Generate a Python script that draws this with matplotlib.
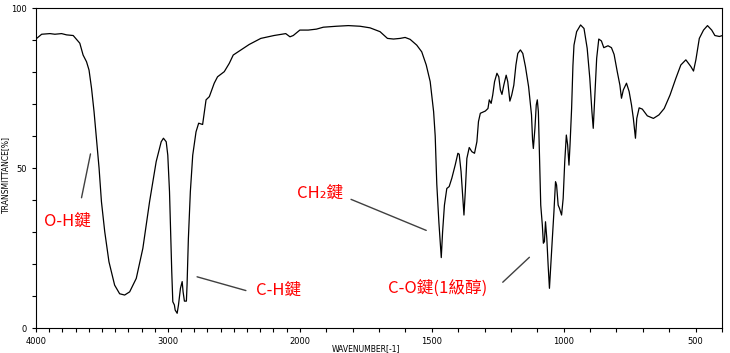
import matplotlib
matplotlib.use("Agg")
import matplotlib.pyplot as plt
import numpy as np

# IR spectrum (wavenumber in cm-1, transmittance in %)
wavenumber = [
    3995, 3957, 3894, 3857, 3806, 3768, 3718, 3668, 3643, 3617, 3598, 3579,
    3560, 3542, 3522, 3504, 3479, 3447, 3404, 3366, 3328, 3290, 3240, 3190,
    3139, 3089, 3051, 3034, 3013, 3001, 2988, 2981, 2971, 2963, 2951, 2945,
    2930, 2920, 2905, 2892, 2885, 2875, 2860, 2855, 2845, 2830, 2812, 2787,
    2767, 2737, 2711, 2686, 2649, 2624, 2573, 2535, 2505, 2447, 2384, 2296,
    2196, 2107, 2075, 2050, 2000,
    1968, 1937, 1911, 1861, 1816, 1772, 1734, 1696, 1668, 1645, 1620, 1601,
    1582, 1557, 1538, 1521, 1506, 1493, 1487, 1481, 1473, 1468, 1464, 1459,
    1452, 1443, 1434, 1424, 1411, 1401, 1396, 1389, 1382, 1378, 1373, 1367,
    1358, 1348, 1338, 1329, 1323, 1316, 1297, 1287, 1282, 1275, 1269, 1262,
    1253, 1246, 1240, 1234, 1227, 1218, 1212, 1204, 1197, 1189, 1181, 1174,
    1164, 1155, 1145, 1133, 1122, 1118, 1115, 1109, 1104, 1100, 1096, 1092,
    1087, 1081, 1077, 1073, 1069, 1064, 1059, 1054, 1049, 1043, 1037, 1031,
    1027, 1021, 1016, 1008, 1002, 996, 990, 985, 980, 976, 970, 965, 961,
    951, 936, 923, 911, 901, 893, 888, 883, 875, 867, 857, 848, 832, 819,
    809, 797, 787, 781, 774, 762, 752, 743, 736, 728, 723, 714, 702, 683,
    660, 639, 619, 597, 575, 556, 537, 518, 508, 499, 486, 470, 455, 439,
    427, 410, 398,
]
transmittance = [
    90.5, 91.8, 92.0, 91.8, 92.0, 91.6, 91.4, 89.0, 85.3, 83.2, 80.6, 74.9,
    67.6, 59.4, 50.0, 39.5, 30.1, 20.7, 13.4, 10.7, 10.3, 11.3, 15.5, 24.9,
    39.5, 52.0, 58.2, 59.3, 58.2, 54.0, 42.6, 32.2, 17.6, 8.2, 7.2, 5.6,
    4.6, 7.2, 12.4, 14.5, 11.3, 8.4, 8.4, 13.4, 27.9, 42.6, 54.0, 61.3,
    64.0, 63.6, 71.3, 72.3, 76.5, 78.5, 80.1, 82.7, 85.3, 86.9, 88.6, 90.5,
    91.4, 92.0, 91.0, 91.4, 93.1,
    93.1, 93.4, 94.0, 94.3, 94.5, 94.3, 93.8, 92.6, 90.5, 90.3, 90.5, 90.8,
    90.2, 88.4, 86.3, 82.2, 77.0, 67.6, 60.0, 45.0, 33.0, 27.0, 22.0, 30.0,
    38.4, 43.6, 44.2, 46.8, 51.0, 54.6, 54.3, 48.9, 40.5, 35.3, 42.6, 53.0,
    56.4, 55.1, 54.6, 58.2, 64.5, 67.1, 67.8, 68.6, 71.3, 70.2, 72.8, 77.0,
    79.6, 78.5, 74.4, 73.0, 75.9, 79.0, 77.0, 70.9, 72.8, 75.9, 82.2, 85.8,
    86.9, 85.8, 81.7, 75.4, 66.6, 58.8, 56.1, 62.4, 69.7, 71.3, 67.6, 54.0,
    38.4, 32.2, 26.5, 27.0, 33.2, 28.0, 19.7, 12.4, 19.7, 28.0, 36.3, 45.7,
    44.7, 38.4, 37.4, 35.3, 40.5, 52.0, 60.3, 57.2, 50.9, 57.2, 68.6, 82.0, 88.4,
    92.6, 94.7, 93.6, 87.4, 78.0, 67.6, 62.4, 70.7, 84.3, 90.3, 89.7, 87.6, 88.2, 87.6,
    85.5, 80.1, 75.9, 71.8, 74.4, 76.5, 73.9, 69.7, 65.5, 59.3, 65.5, 68.8, 68.4, 66.3,
    65.5, 66.6, 68.6, 72.8, 78.0, 82.2, 83.8, 81.7, 80.3, 83.8, 90.5, 93.1, 94.5, 93.1,
    91.4, 91.1, 91.4,
]

x_labels = [4000, 3000, 2000, 1500, 1000, 500]

# band labels: text, text position, line start, line end
labels = ["O-H鍵", "C-H鍵", "CH₂鍵", "C-O鍵(1級醇)"]
label_pos = [(3762, 33.3), (2165, 11.7), (1924, 42.2), (1476, 12.5)]
line_from = [(3655, 40.7), (2779, 16.0), (1806, 40.2), (1231, 14.3)]
line_to = [(3587, 54.4), (2409, 11.7), (1521, 30.5), (1130, 22.1)]


# axis is compressed by half above 2000 cm-1
def fwd(w):
    w = np.asarray(w, dtype=float)
    return np.where(w >= 2000, w * 0.5 + 1000, w)


def inv(p):
    p = np.asarray(p, dtype=float)
    return np.where(p >= 2000, (p - 1000) * 2, p)


fig = plt.figure(figsize=(7.3, 3.53), dpi=100)
ax = fig.add_axes([36 / 730, 25 / 353, 686 / 730, 320 / 353])

ax.plot(wavenumber, transmittance, color="black", lw=0.9)

ax.set_xscale("function", functions=(fwd, inv))
ax.set_xlim(4000, 400)
ax.set_ylim(0, 100)

ax.set_xticks(x_labels)
ax.set_xticklabels([str(v) for v in x_labels])
ax.set_xticks(np.arange(400, 4001, 100), minor=True)
ax.set_yticks([0, 50, 100])
ax.set_yticks(np.arange(0, 101, 10), minor=True)

ax.tick_params(which="both", direction="out", length=3, width=0.8,
               labelsize=6, top=False, right=False)
for s in ax.spines.values():
    s.set_linewidth(0.8)

ax.set_xlabel("WAVENUMBER[-1]", fontsize=5.5)
ax.xaxis.set_label_coords(0.481, -0.05)
ax.set_ylabel("TRANSMITTANCE[%]", fontsize=5.5)
ax.yaxis.set_label_coords(-0.038, 0.48)

cjk = ["Noto Sans CJK TC", "DejaVu Sans"]
for txt, pos, a, b in zip(labels, label_pos, line_from, line_to):
    ax.text(pos[0], pos[1], txt, color="red", fontsize=12, family=cjk,
            ha="center", va="center")
    ax.annotate("", xy=b, xytext=a,
                arrowprops=dict(arrowstyle="-", color="#404040", lw=1.0,
                                shrinkA=0, shrinkB=0))

fig.savefig("out.png", dpi=100)
